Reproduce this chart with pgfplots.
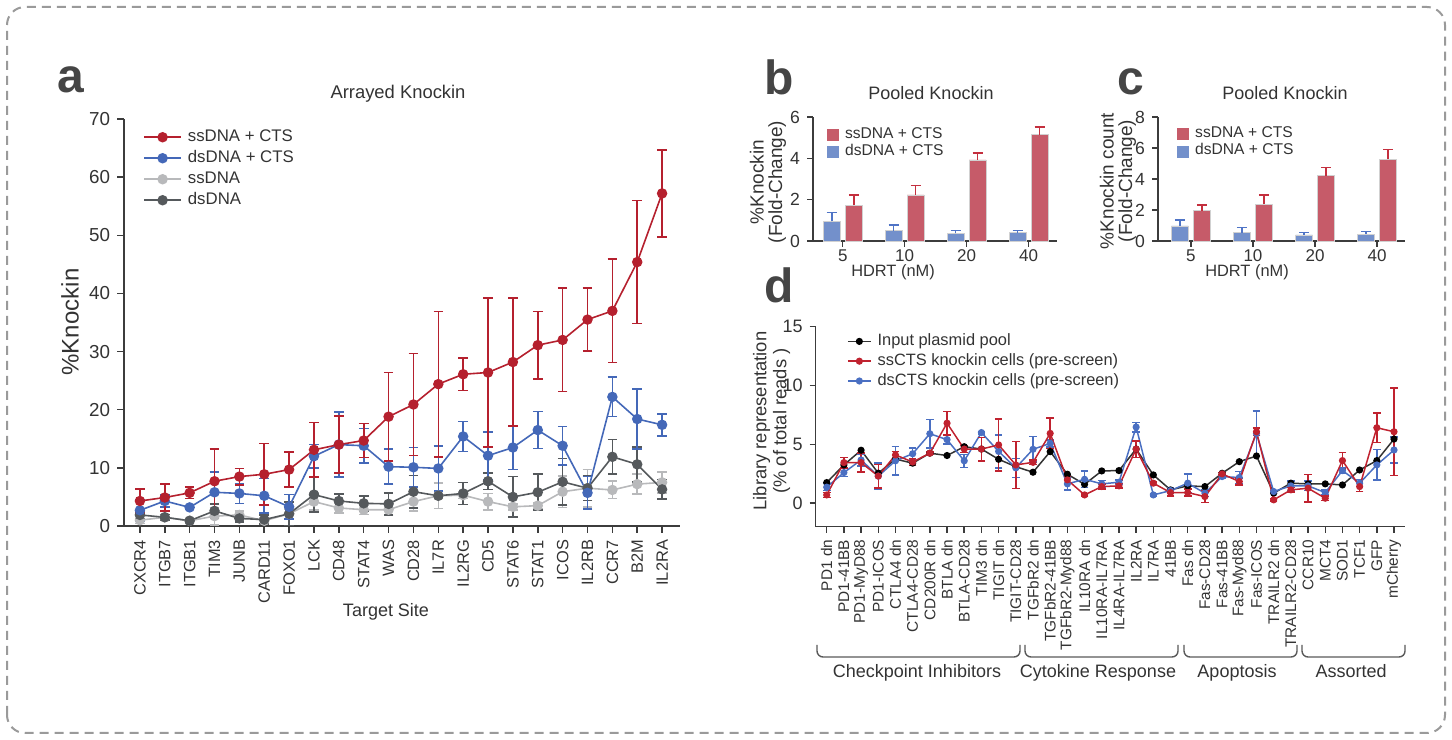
\documentclass[border=0pt]{standalone}
\usepackage{fontspec}
\setmainfont{Liberation Sans}
\usepackage{pgfplots}
\usepackage{pgfplotstable}
\pgfplotsset{compat=1.18}

\definecolor{txt}{HTML}{333333}
\definecolor{axc}{HTML}{3C3C3C}
\definecolor{cred}{HTML}{B5202E}
\definecolor{cblue}{HTML}{4468B8}
\definecolor{clgrey}{HTML}{B8B9BB}
\definecolor{cdgrey}{HTML}{55595C}
\definecolor{barred}{HTML}{C65B69}
\definecolor{barblue}{HTML}{7390CB}
\definecolor{errred}{HTML}{C42F3E}
\definecolor{errblue}{HTML}{4F74C6}
\definecolor{framec}{HTML}{9A9A9A}
\definecolor{lettc}{HTML}{454545}
\definecolor{dred}{HTML}{C0222F}
\definecolor{dblue}{HTML}{4A6FC2}

\newcommand\fs[2]{\fontsize{#1}{#2}\selectfont}

\pgfplotstableread{
x r re b be l le d de
0 4.3 2.1 2.7 1.8 1.0 0.6 1.9 0.6
1 4.9 2.3 4.3 1.0 1.5 0.5 1.5 0.5
2 5.7 1.0 3.2 0.3 0.9 0.4 0.9 0.4
3 7.7 5.5 5.8 3.5 1.7 1.5 2.6 1.2
4 8.5 1.4 5.6 1.7 1.9 0.7 1.3 0.6
5 8.9 5.3 5.2 3.0 0.9 0.5 1.1 0.8
6 9.7 3.0 3.3 2.1 2.1 0.8 2.1 2.0
7 13.1 4.7 12.0 2.0 4.2 1.5 5.4 3.0
8 14.0 4.9 14.0 5.6 3.1 0.9 4.3 1.2
9 14.7 2.9 13.8 3.0 2.8 0.8 3.9 1.3
10 18.8 7.6 10.2 3.0 2.8 0.8 3.8 1.9
11 20.9 8.8 10.1 3.4 4.2 1.6 5.9 2.8
12 24.4 12.5 9.9 3.9 5.2 2.2 5.2 0.4
13 26.1 2.8 15.4 2.6 5.3 0.6 5.6 1.9
14 26.4 12.8 12.1 4.1 4.2 1.4 7.7 1.4
15 28.2 11.0 13.5 3.8 3.3 0.5 5.0 3.5
16 31.1 5.8 16.5 3.2 3.5 0.5 5.8 3.1
17 32.0 8.9 13.8 3.3 5.9 2.7 7.6 4.0
18 35.5 5.4 5.7 2.8 6.5 3.2 6.5 2.1
19 37.0 8.9 22.2 3.4 6.2 1.5 11.9 3.0
20 45.4 10.6 18.4 5.2 7.2 1.7 10.6 3.0
21 57.2 7.5 17.4 1.9 7.5 1.8 6.3 1.7
}\tabA

\pgfplotstableread{
x b be r re
0 0.95 0.42 1.74 0.49
1 0.50 0.28 2.23 0.45
2 0.37 0.13 3.92 0.35
3 0.40 0.10 5.14 0.39
}\tabB

\pgfplotstableread{
x b be r re
0 0.97 0.39 1.95 0.39
1 0.54 0.33 2.38 0.59
2 0.39 0.17 4.20 0.54
3 0.45 0.16 5.26 0.64
}\tabC

\pgfplotstableread{
x k r re b be
0 1.75 0.70 0.20 1.36 0.30
1 3.25 3.45 0.45 2.60 0.35
2 4.50 3.45 0.80 3.67 0.50
3 2.55 2.30 1.00 2.30 1.10
4 3.75 4.10 0.30 3.60 1.20
5 3.40 3.50 0.30 4.20 0.50
6 4.25 4.25 0.10 5.90 1.20
7 4.05 6.80 1.00 5.40 0.35
8 4.80 4.60 0.30 3.60 0.55
9 4.60 4.60 1.00 6.00 0.10
10 3.73 4.95 2.20 4.40 1.40
11 3.10 3.25 2.00 3.00 0.80
12 2.63 3.47 0.20 4.58 1.10
13 4.38 5.93 1.30 5.08 0.30
14 2.46 1.98 0.30 1.64 0.50
15 1.60 0.70 0.10 2.03 0.70
16 2.74 1.41 0.20 1.64 0.30
17 2.77 1.47 0.20 1.78 0.20
18 4.60 4.60 0.70 6.47 0.40
19 2.40 1.70 0.10 0.70 0.10
20 1.13 0.90 0.30 1.07 0.20
21 1.47 0.90 0.30 1.70 0.80
22 1.41 0.56 0.50 0.85 0.30
23 2.54 2.49 0.10 2.26 0.10
24 3.53 1.84 0.30 2.18 0.50
25 4.01 6.07 0.30 5.93 1.90
26 0.85 0.28 0.10 0.99 0.10
27 1.70 1.13 0.20 1.47 0.40
28 1.64 1.27 1.15 1.47 0.40
29 1.64 0.42 0.20 0.90 0.20
30 1.55 3.62 0.70 2.77 0.20
31 2.82 1.41 0.40 1.70 0.30
32 3.62 6.41 1.25 3.25 1.30
33 5.45 6.07 3.70 4.52 1.10
}\tabD

\pgfplotsset{
  myax/.style={scale only axis, axis x line*=bottom, axis y line*=left,
    axis line style={draw=axc, line width=0.75bp},
    every tick/.style={draw=axc, line width=0.75bp},
    tick align=outside, major tick length=3.5bp,
    tick label style={text=txt},
    /pgf/number format/assume math mode=true, clip=false},
  sA/.style={#1, line width=0.8bp, mark=*, mark size=2.2bp,
    error bars/.cd, y dir=both, y explicit,
    error bar style={#1, line width=0.8bp},
    error mark options={#1, rotate=90, line width=0.8bp, mark size=2.4bp}},
  sD/.style={#1, line width=0.75bp, mark=*, mark size=1.4bp,
    error bars/.cd, y dir=both, y explicit,
    error bar style={#1, line width=0.75bp},
    error mark options={#1, rotate=90, line width=0.75bp, mark size=1.9bp}},
  sB/.style n args={2}{ybar, bar width=8.5bp, bar shift=0pt, fill=#1, draw=black!18, line width=0.4bp,
    error bars/.cd, y dir=plus, y explicit,
    error bar style={#2, line width=0.8bp},
    error mark options={#2, rotate=90, line width=0.8bp, mark size=2.5bp}},
}

\begin{document}
\begin{tikzpicture}
\useasboundingbox (0,0) rectangle (726bp,370bp);
\draw[framec, line width=1bp, dash pattern=on 4.5bp off 3bp, rounded corners=9bp] (3.5bp,3.5bp) rectangle (722.5bp,366.5bp);

% ---------- panel a ----------
\begin{axis}[myax, at={(62bp,107bp)}, anchor=south west, width=278bp, height=203.5bp,
  xmin=-0.64, xmax=21.72, ymin=0, ymax=70, ytick={0,10,...,70},
  xtick={0,...,21},
  xticklabels={CXCR4,ITGB7,ITGB1,TIM3,JUNB,CARD11,FOXO1,LCK,CD48,STAT4,WAS,CD28,IL7R,IL2RG,CD5,STAT6,STAT1,ICOS,IL2RB,CCR7,B2M,IL2RA},
  x tick label style={rotate=90, anchor=east, font=\fs{8.2bp}{9bp}},
  y tick label style={font=\fs{9.4bp}{10bp}},
  legend style={at={(0.034,0.982)}, anchor=north west, draw=none, fill=none, inner sep=0pt,
    font=\fs{8.4bp}{9bp}, text=txt, row sep=0pt,
    nodes={inner ysep=0pt, inner xsep=3bp, text height=7.5bp, text depth=3bp, anchor=west}},
  legend cell align=left,
  legend image code/.code={\draw[#1, mark repeat=2, mark phase=2] plot coordinates {(0bp,0bp) (9.25bp,0bp) (18.5bp,0bp)};}]
\addlegendimage{cred, line width=0.8bp, mark=*, mark size=2.2bp}
\addlegendentry{ssDNA + CTS}
\addlegendimage{cblue, line width=0.8bp, mark=*, mark size=2.2bp}
\addlegendentry{dsDNA + CTS}
\addlegendimage{clgrey, line width=0.8bp, mark=*, mark size=2.2bp}
\addlegendentry{ssDNA}
\addlegendimage{cdgrey, line width=0.8bp, mark=*, mark size=2.2bp}
\addlegendentry{dsDNA}
\addplot[forget plot, sA=clgrey] table[x=x, y=l, y error=le]{\tabA};
\addplot[forget plot, sA=cdgrey] table[x=x, y=d, y error=de]{\tabA};
\addplot[forget plot, sA=cblue] table[x=x, y=b, y error=be]{\tabA};
\addplot[forget plot, sA=cred] table[x=x, y=r, y error=re]{\tabA};
\end{axis}

% ---------- panel b ----------
\begin{axis}[myax, at={(406.5bp,249.5bp)}, anchor=south west, width=122bp, height=62bp,
  xmin=-0.48, xmax=3.46, ymin=0, ymax=6, ytick={0,2,4,6},
  xtick={0,1,2,3}, xticklabels={5,10,20,40}, major tick length=3bp,
  x tick label style={font=\fs{8.5bp}{9bp}, inner ysep=1bp},
  y tick label style={font=\fs{8.8bp}{9bp}},
  legend style={at={(0.057,0.93)}, anchor=north west, draw=none, fill=none, inner sep=0pt,
    font=\fs{7.8bp}{8.5bp}, text=txt, row sep=0pt,
    nodes={inner ysep=0pt, inner xsep=3bp, text height=6bp, text depth=2.65bp, anchor=west}},
  legend cell align=left]
\addlegendimage{legend image code/.code={\fill[barred] (0bp,-2.75bp) rectangle (5.5bp,2.75bp);}}
\addlegendentry{ssDNA + CTS}
\addlegendimage{legend image code/.code={\fill[barblue] (0bp,-2.75bp) rectangle (5.5bp,2.75bp);}}
\addlegendentry{dsDNA + CTS}
\addplot[forget plot, sB={barblue}{errblue}] table[x expr=\thisrow{x}-0.178, y=b, y error=be]{\tabB};
\addplot[forget plot, sB={barred}{errred}] table[x expr=\thisrow{x}+0.178, y=r, y error=re]{\tabB};
\end{axis}

% ---------- panel c ----------
\begin{axis}[myax, at={(579bp,249.5bp)}, anchor=south west, width=123.5bp, height=62bp,
  xmin=-0.53, xmax=3.45, ymin=0, ymax=8, ytick={0,2,4,6,8},
  xtick={0,1,2,3}, xticklabels={5,10,20,40}, major tick length=3bp,
  x tick label style={font=\fs{8.5bp}{9bp}, inner ysep=1bp},
  y tick label style={font=\fs{8.8bp}{9bp}},
  legend style={at={(0.077,0.935)}, anchor=north west, draw=none, fill=none, inner sep=0pt,
    font=\fs{7.8bp}{8.5bp}, text=txt, row sep=0pt,
    nodes={inner ysep=0pt, inner xsep=3bp, text height=6bp, text depth=2.65bp, anchor=west}},
  legend cell align=left]
\addlegendimage{legend image code/.code={\fill[barred] (0bp,-2.75bp) rectangle (5.5bp,2.75bp);}}
\addlegendentry{ssDNA + CTS}
\addlegendimage{legend image code/.code={\fill[barblue] (0bp,-2.75bp) rectangle (5.5bp,2.75bp);}}
\addlegendentry{dsDNA + CTS}
\addplot[forget plot, sB={barblue}{errblue}] table[x expr=\thisrow{x}-0.177, y=b, y error=be]{\tabC};
\addplot[forget plot, sB={barred}{errred}] table[x expr=\thisrow{x}+0.177, y=r, y error=re]{\tabC};
\end{axis}

% ---------- panel d ----------
\begin{axis}[myax, at={(407.85bp,106.65bp)}, anchor=south west, width=294.65bp, height=100bp,
  xmin=-0.64, xmax=33.64, ymin=-2, ymax=15, ytick={0,5,10,15},
  xtick={0,...,33}, major tick length=3bp,
  xticklabels={PD1 dn,PD1-41BB,PD1-MyD88,PD1-ICOS,CTLA4 dn,CTLA4-CD28,CD200R dn,BTLA dn,BTLA-CD28,TIM3 dn,TIGIT dn,TIGIT-CD28,TGFbR2 dn,TGFbR2-41BB,TGFbR2-Myd88,IL10RA dn,IL10RA-IL7RA,IL4RA-IL7RA,IL2RA,IL7RA,41BB,Fas dn,Fas-CD28,Fas-41BB,Fas-Myd88,Fas-ICOS,TRAILR2 dn,TRAILR2-CD28,CCR10,MCT4,SOD1,TCF1,GFP,mCherry},
  x tick label style={rotate=90, anchor=east, font=\fs{7.7bp}{9bp}},
  y tick label style={font=\fs{9bp}{9bp}},
  legend style={at={(0.0526,0.978)}, anchor=north west, draw=none, fill=none, inner sep=0pt,
    font=\fs{8.2bp}{9bp}, text=txt, row sep=0pt,
    nodes={inner ysep=0pt, inner xsep=3bp, text height=7bp, text depth=2.9bp, anchor=west}},
  legend cell align=left,
  legend image code/.code={\draw[#1, mark repeat=2, mark phase=2] plot coordinates {(0bp,0bp) (5.75bp,0bp) (11.5bp,0bp)};}]
\addlegendimage{black!80, line width=0.75bp, mark=*, mark size=1.4bp, mark options={black}}
\addlegendentry{Input plasmid pool}
\addlegendimage{dred, line width=0.75bp, mark=*, mark size=1.4bp}
\addlegendentry{ssCTS knockin cells (pre-screen)}
\addlegendimage{dblue, line width=0.75bp, mark=*, mark size=1.4bp}
\addlegendentry{dsCTS knockin cells (pre-screen)}
\addplot[forget plot, black!80, line width=0.75bp, mark=*, mark size=1.4bp, mark options={black}] table[x=x, y=k]{\tabD};
\addplot[forget plot, sD=dblue] table[x=x, y=b, y error=be]{\tabD};
\addplot[forget plot, sD=dred] table[x=x, y=r, y error=re]{\tabD};
\end{axis}

% ---------- text ----------
\node[anchor=base west, text=lettc, font=\fs{24bp}{26bp}\bfseries] at (25bp,323.5bp) {a};
\node[anchor=base west, text=lettc, font=\fs{24bp}{26bp}\bfseries] at (378.5bp,322.5bp) {b};
\node[anchor=base west, text=lettc, font=\fs{24bp}{26bp}\bfseries] at (555bp,322.5bp) {c};
\node[anchor=base west, text=lettc, font=\fs{24bp}{26bp}\bfseries] at (378.5bp,218.5bp) {d};

\node[anchor=base, text=txt, font=\fs{9.2bp}{10bp}] at (199bp,320.5bp) {Arrayed Knockin};
\node[anchor=base, text=txt, font=\fs{9bp}{10bp}] at (465.5bp,320.3bp) {Pooled Knockin};
\node[anchor=base, text=txt, font=\fs{9bp}{10bp}] at (642.5bp,320.3bp) {Pooled Knockin};

\node[rotate=90, text=txt, font=\fs{12bp}{13bp}] at (35bp,209bp) {\%Knockin};
\node[rotate=90, align=center, text=txt, font=\fs{9.5bp}{9.3bp}] at (384bp,279bp) {\%Knockin\\(Fold-Change)};
\node[rotate=90, align=center, text=txt, font=\fs{9.5bp}{9.3bp}] at (559bp,279.5bp) {\%Knockin count\\(Fold-Change)};
\node[rotate=90, align=center, text=txt, font=\fs{9.2bp}{10bp}] at (385.75bp,159.5bp) {Library representation\\(\% of total reads )};

\node[anchor=base, text=txt, font=\fs{9bp}{10bp}] at (193bp,61.5bp) {Target Site};
\node[anchor=base, text=txt, font=\fs{8.2bp}{10bp}] at (446.5bp,231.5bp) {HDRT (nM)};
\node[anchor=base, text=txt, font=\fs{8.2bp}{10bp}] at (623.5bp,231.5bp) {HDRT (nM)};

% brackets
\begin{scope}[draw=black!65, line width=0.7bp, rounded corners=3bp]
\draw (408.5bp,47.5bp) -- (408.5bp,41.5bp) -- (510bp,41.5bp) -- (510bp,47.5bp);
\draw (512.5bp,47.5bp) -- (512.5bp,41.5bp) -- (589bp,41.5bp) -- (589bp,47.5bp);
\draw (592bp,47.5bp) -- (592bp,41.5bp) -- (648.5bp,41.5bp) -- (648.5bp,47.5bp);
\draw (651bp,47.5bp) -- (651bp,41.5bp) -- (702.5bp,41.5bp) -- (702.5bp,47.5bp);
\end{scope}
\node[anchor=base, text=txt, font=\fs{9bp}{10bp}] at (458.5bp,31.5bp) {Checkpoint Inhibitors};
\node[anchor=base, text=txt, font=\fs{9bp}{10bp}] at (549bp,31.5bp) {Cytokine Response};
\node[anchor=base, text=txt, font=\fs{9bp}{10bp}] at (618.5bp,31.5bp) {Apoptosis};
\node[anchor=base, text=txt, font=\fs{9bp}{10bp}] at (675.5bp,31.5bp) {Assorted};
\end{tikzpicture}
\end{document}
